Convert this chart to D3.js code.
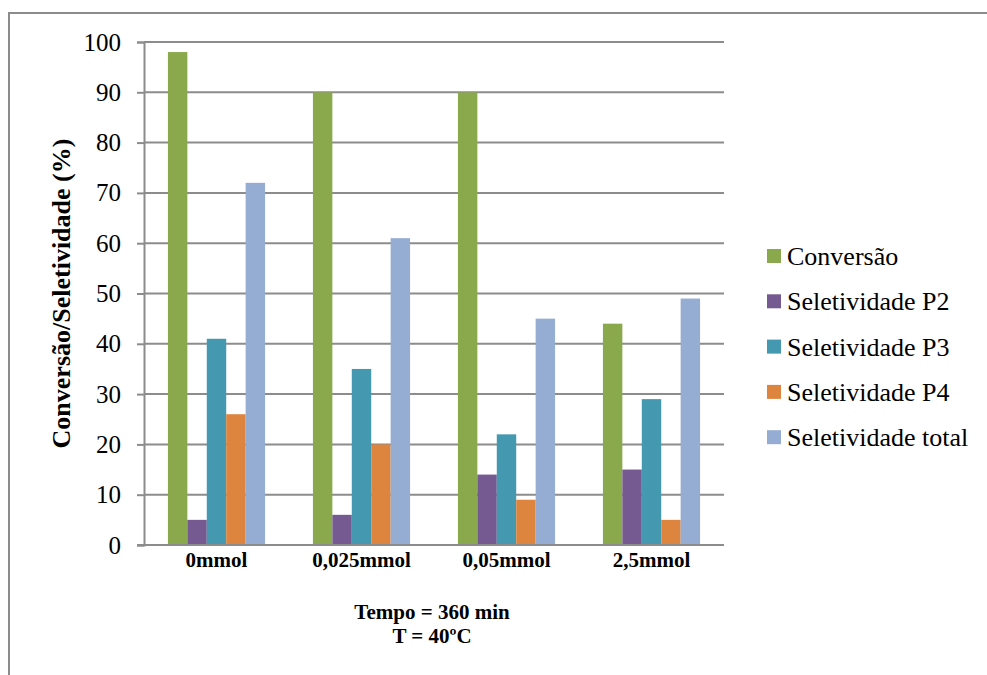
<!DOCTYPE html>
<html>
<head>
<meta charset="utf-8">
<title>Conversão/Seletividade</title>
<script src="https://d3js.org/d3.v7.min.js"></script>
<style>
  body { margin: 0; background: #fff; }
  svg text { font-family: "Times New Roman", "Liberation Serif", Tinos, "DejaVu Serif", serif; fill: #000; }
</style>
</head>
<body>
<script>

// data
var categories = ["0mmol", "0,025mmol", "0,05mmol", "2,5mmol"];
var seriesNames = ["Conversão", "Seletividade P2", "Seletividade P3", "Seletividade P4", "Seletividade total"];
var conversao = [98, 90, 90, 44];
var selP2 = [5, 6, 14, 15];
var selP3 = [41, 35, 22, 29];
var selP4 = [26, 20, 9, 5];
var selTotal = [72, 61, 45, 49];
var yTicks = [0, 10, 20, 30, 40, 50, 60, 70, 80, 90, 100];
var colors = ["#8aa84c", "#745a90", "#4499b0", "#dd843e", "#95acd3"];

var series = [conversao, selP2, selP3, selP4, selTotal];

var width = 987, height = 675;
// plot area (note: "top" is reserved on window, so use other names)
var plotLeft = 144, plotRight = 724, plotTop = 42, plotBottom = 545;

var svg = d3.select("body").append("svg")
  .attr("width", width)
  .attr("height", height);

// outer frame
svg.append("rect")
  .attr("x", 9).attr("y", 13)
  .attr("width", 1000).attr("height", 700)
  .attr("fill", "none")
  .attr("stroke", "#8c8c8c")
  .attr("stroke-width", 2);

var x0 = d3.scaleBand().domain(categories).range([plotLeft, plotRight]).paddingInner(0.33).paddingOuter(0.165);
var x1 = d3.scaleBand().domain(d3.range(seriesNames.length)).range([0, x0.bandwidth()]);
var y = d3.scaleLinear().domain([0, 100]).range([plotBottom, plotTop]);

// gridlines
svg.append("g")
  .selectAll("line")
  .data(yTicks)
  .enter().append("line")
  .attr("x1", plotLeft).attr("x2", plotRight)
  .attr("y1", function(d) { return y(d); })
  .attr("y2", function(d) { return y(d); })
  .attr("stroke", "#8c8c8c")
  .attr("stroke-width", 2);

// y axis
var yAxis = svg.append("g")
  .attr("transform", "translate(" + plotLeft + ",0)")
  .call(d3.axisLeft(y).tickValues(yTicks).tickSize(7).tickPadding(16)
    .tickFormat(d3.format("d")));
yAxis.attr("font-family", null);
yAxis.select(".domain").attr("stroke", "#8c8c8c").attr("stroke-width", 2);
yAxis.selectAll(".tick line").attr("stroke", "#8c8c8c").attr("stroke-width", 2);
yAxis.selectAll(".tick text")
  .style("font-size", "25px")
  .attr("fill", "#000");

// bars
var groups = svg.append("g")
  .selectAll("g")
  .data(categories)
  .enter().append("g")
  .attr("transform", function(d) { return "translate(" + x0(d) + ",0)"; });

groups.selectAll("rect")
  .data(function(d, i) { return series.map(function(s, j) { return {s: j, v: s[i]}; }); })
  .enter().append("rect")
  .attr("x", function(d) { return x1(d.s); })
  .attr("width", x1.bandwidth())
  .attr("y", function(d) { return y(d.v); })
  .attr("height", function(d) { return y(0) - y(d.v); })
  .attr("fill", function(d) { return colors[d.s]; });

// baseline on top of bars
svg.append("line")
  .attr("x1", plotLeft - 7).attr("x2", plotRight)
  .attr("y1", y(0)).attr("y2", y(0))
  .attr("stroke", "#8c8c8c").attr("stroke-width", 2);

// category labels
svg.append("g")
  .selectAll("text")
  .data(categories)
  .enter().append("text")
  .attr("x", function(d) { return x0(d) + x0.bandwidth() / 2; })
  .attr("y", 567)
  .attr("text-anchor", "middle")
  .style("font-size", "21px")
  .style("font-weight", "bold")
  .text(function(d) { return d; });

// y axis title
svg.append("text")
  .attr("transform", "translate(70," + ((plotTop + plotBottom) / 2) + ") rotate(-90)")
  .attr("text-anchor", "middle")
  .style("font-size", "26px")
  .style("font-weight", "bold")
  .text("Conversão/Seletividade (%)");

// bottom note
svg.append("text")
  .attr("x", 432).attr("y", 619)
  .attr("text-anchor", "middle")
  .style("font-size", "21px")
  .style("font-weight", "bold")
  .text("Tempo = 360 min");
svg.append("text")
  .attr("x", 432).attr("y", 643)
  .attr("text-anchor", "middle")
  .style("font-size", "21px")
  .style("font-weight", "bold")
  .text("T = 40ºC");

// legend
var legend = svg.append("g")
  .selectAll("g")
  .data(seriesNames)
  .enter().append("g")
  .attr("transform", function(d, i) { return "translate(767," + (256 + i * 45.3) + ")"; });

legend.append("rect")
  .attr("x", 0).attr("y", -7)
  .attr("width", 14).attr("height", 14)
  .attr("fill", function(d, i) { return colors[i]; });

legend.append("text")
  .attr("x", 20).attr("y", 9)
  .style("font-size", "26px")
  .text(function(d) { return d; });

</script>
</body>
</html>
